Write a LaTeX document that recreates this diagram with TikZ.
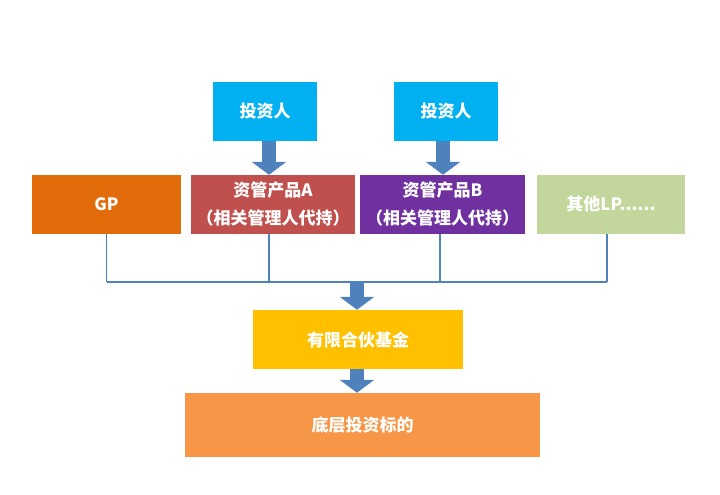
\documentclass[tikz,border=0pt]{standalone}
\usepackage{fontspec}
\setmainfont{Noto Sans CJK SC}
\usetikzlibrary{arrows.meta}
\definecolor{invblue}{HTML}{00B0F0}
\definecolor{gporange}{HTML}{E36C0A}
\definecolor{prodred}{HTML}{C0504D}
\definecolor{prodpurple}{HTML}{7030A0}
\definecolor{lpgreen}{HTML}{C3D69B}
\definecolor{fundyellow}{HTML}{FFC000}
\definecolor{assetorange}{HTML}{F79646}
\definecolor{linkblue}{HTML}{4F81BD}
\tikzset{
  box/.style={inner sep=0pt, minimum height=59pt, text=white, align=center,
    font=\bfseries\fontsize{17}{28}\selectfont},
  link/.style={draw=linkblue, line width=1.6pt},
  fat/.style={draw=linkblue, line width=14pt,
    -{Triangle[width=34pt,length=13pt]}}
}
\begin{document}
\begin{tikzpicture}[x=1pt, y=-1pt]
		\useasboundingbox (0,0) rectangle (720,495);
		% investors
		\node[box, fill=invblue, minimum width=104pt] (inv1) at (265,111.5) {投资人};
		\node[box, fill=invblue, minimum width=104pt] (inv2) at (446,111.5) {投资人};
		% partners
		\node[box, fill=gporange, minimum width=149pt] (gp) at (106.5,204.5) {GP};
		\node[box, fill=prodred, minimum width=164pt] (proda) at (273,204.5) {资管产品A\\（相关管理人代持）};
		\node[box, fill=prodpurple, minimum width=165pt] (prodb) at (442.5,204.5) {资管产品B\\（相关管理人代持）};
		\node[box, fill=lpgreen, minimum width=148pt] (lp) at (611,204.5) {其他LP......};
		\node[box, fill=fundyellow, minimum width=210pt] (fund) at (358,339.5) {有限合伙基金};
		\node[box, fill=assetorange, minimum width=355pt, minimum height=64pt] (asset) at (362.5,425) {底层投资标的};
		\coordinate (bus) at (357,282);
		% connectors
		\draw[fat] (inv1.south -| 269,0) -- (proda.north -| 269,0);
		\draw[fat] (inv2.south -| 443,0) -- (prodb.north -| 443,0);
		\draw[link] (gp.south) -- (gp.south |- bus);
		\draw[link] (proda.south -| 269,0) -- (bus -| 269,0);
		\draw[link] (prodb.south -| 440,0) -- (bus -| 440,0);
		\draw[link] (lp.south -| 607,0) -- (bus -| 607,0);
		\draw[link] (gp.south |- bus) -- (bus -| 607,0);
		\draw[fat] (bus) -- (bus |- fund.north);
		\draw[fat] (bus |- fund.south) -- (bus |- asset.north);
	\end{tikzpicture}
\end{document}
